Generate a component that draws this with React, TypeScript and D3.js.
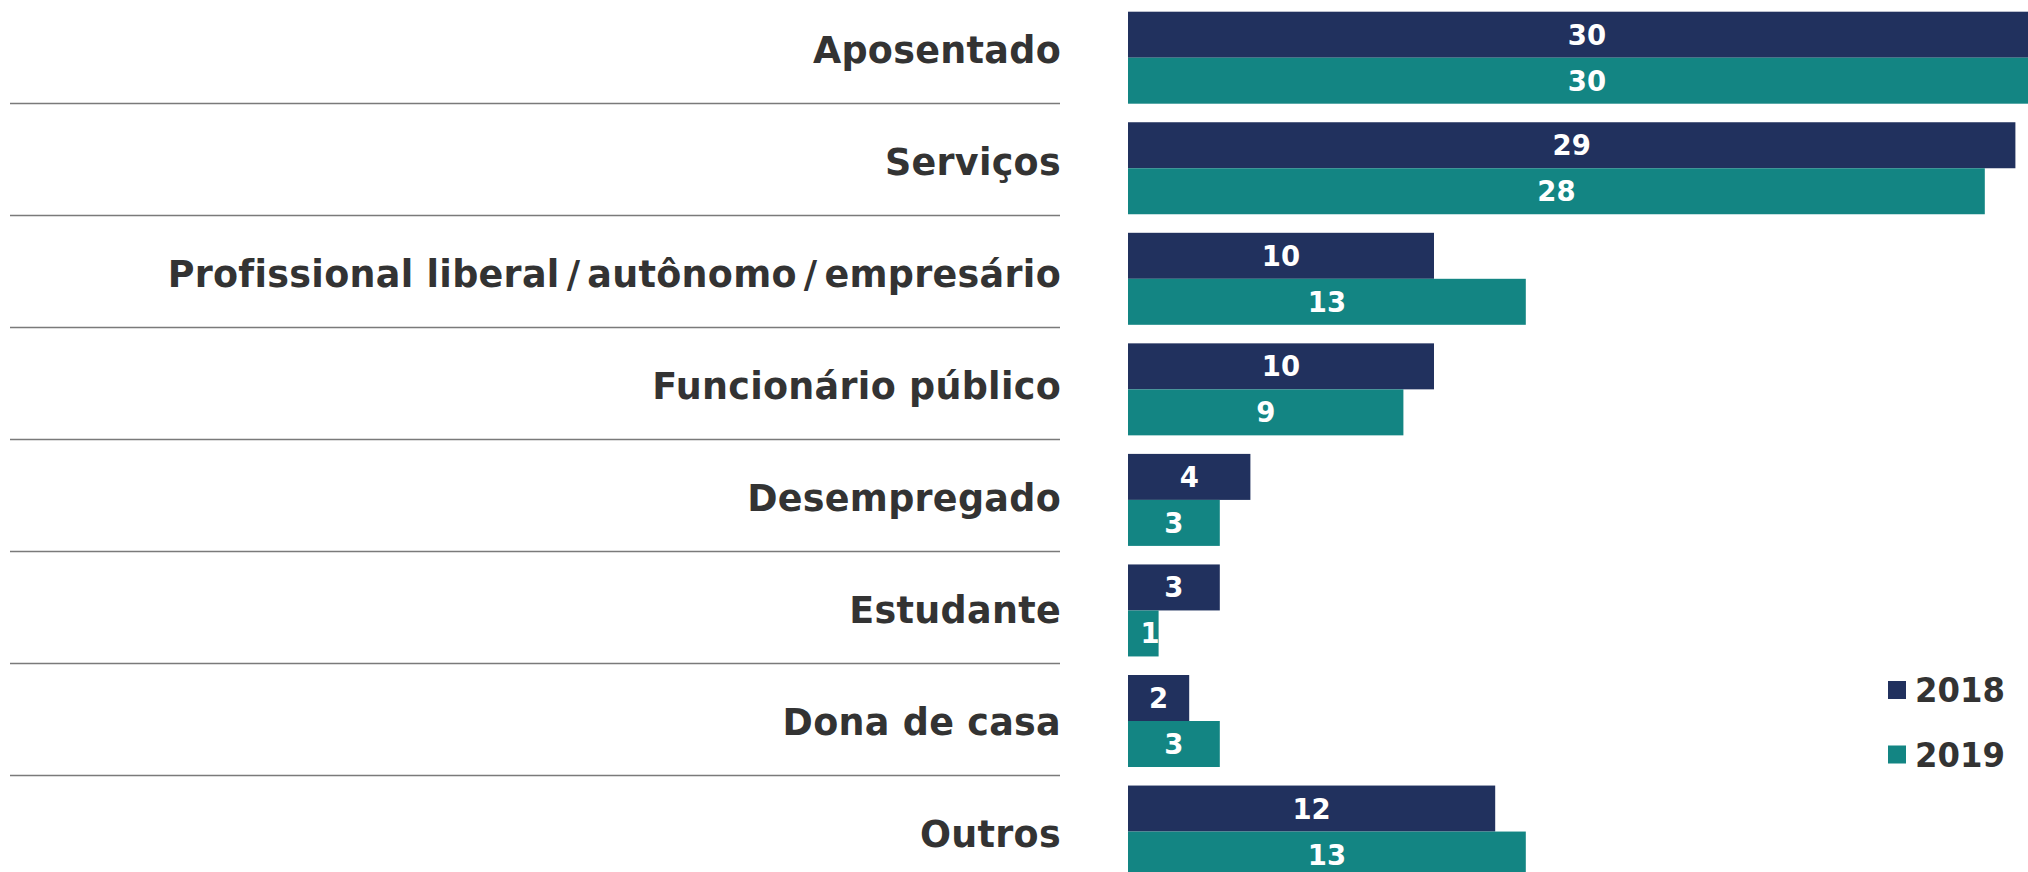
import React from "react";
import * as d3 from "d3";

const categories = [
  "Aposentado",
  "Serviços",
  "Profissional liberal/autônomo/empresário",
  "Funcionário público",
  "Desempregado",
  "Estudante",
  "Dona de casa",
  "Outros",
];
const seriesNames = ["2018", "2019"];
const values2018 = [30, 29, 10, 10, 4, 3, 2, 12];
const values2019 = [30, 28, 13, 9, 3, 1, 3, 13];
const seriesValues = [values2018, values2019];
const colors = ["#21315E", "#138583"];

const W = 2028;
const H = 872;
const FONT = "'DejaVu Sans', Verdana, sans-serif";

function Label({ text }: { text: string }) {
  // Verdana-like wide slash: pad the slash glyph on both sides
  const parts = text.split("/");
  const out: React.ReactNode[] = [];
  parts.forEach((p, i) => {
    if (i > 0) {
      out.push(
        <tspan key={`s${i}`} dx={7}>
          /
        </tspan>
      );
      out.push(
        <tspan key={`p${i}`} dx={7}>
          {p}
        </tspan>
      );
    } else {
      out.push(<tspan key={`p${i}`}>{p}</tspan>);
    }
  });
  return <>{out}</>;
}

export default function App() {
  const x = d3.scaleLinear().domain([0, 30]).range([1128, 1128 + 918]);

  // bar groups
  const yGroup = d3
    .scaleBand<string>()
    .domain(categories)
    .range([11.7, 11.7 + 7 * 110.55 + 92])
    .paddingInner(18.55 / 110.55)
    .paddingOuter(0);
  const ySeries = d3
    .scaleBand<string>()
    .domain(seriesNames)
    .range([0, yGroup.bandwidth()]);

  // label rows (table-like grid on the left)
  const yRow = d3
    .scaleBand<string>()
    .domain(categories)
    .range([-8.5, -8.5 + 8 * 112]);

  const labelRight = 1061;

  return (
    <svg
      width={W}
      height={H}
      style={{ position: "absolute", left: 0, top: 0, background: "#fff" }}
      fontFamily={FONT}
    >
      {/* left labels and separators */}
      {categories.map((c, i) => {
        const y0 = yRow(c)!;
        const cy = y0 + yRow.bandwidth() / 2;
        return (
          <g key={c}>
            <text
              transform={`translate(${labelRight},${cy + 15.2}) scale(1,1.04)`}
              textAnchor="end"
              fontSize={36.5}
              fontWeight="bold"
              letterSpacing={0.3}
              fill="#333333"
            >
              <Label text={c} />
            </text>
            {i < categories.length - 1 && (
              <line
                x1={10}
                x2={1060}
                y1={y0 + yRow.bandwidth()}
                y2={y0 + yRow.bandwidth()}
                stroke="#7a7a7a"
                strokeWidth={1.6}
              />
            )}
          </g>
        );
      })}

      {/* bars */}
      {categories.map((c, i) => (
        <g key={c} transform={`translate(0,${yGroup(c)})`}>
          {seriesNames.map((s, j) => {
            const v = seriesValues[j][i];
            const by = ySeries(s)!;
            const bw = x(v) - x(0);
            const cx = Math.max(x(0) + bw / 2, x(0) + 22);
            return (
              <g key={s}>
                <rect
                  x={x(0)}
                  y={by}
                  width={bw}
                  height={ySeries.bandwidth()}
                  fill={colors[j]}
                />
                <text
                  x={cx}
                  y={by + ySeries.bandwidth() / 2 + 10}
                  textAnchor="middle"
                  fontSize={27.5}
                  fontWeight="bold"
                  fill="#ffffff"
                >
                  {v}
                </text>
              </g>
            );
          })}
        </g>
      ))}

      {/* legend */}
      {seriesNames.map((s, j) => (
        <g key={s} transform={`translate(1888,${681 + j * 64.5})`}>
          <rect x={0} y={0} width={18} height={18} fill={colors[j]} />
          <text
            transform="translate(27,21) scale(1,1.06)"
            fontSize={32.3}
            fontWeight="bold"
            fill="#333333"
          >
            {s}
          </text>
        </g>
      ))}
    </svg>
  );
}
